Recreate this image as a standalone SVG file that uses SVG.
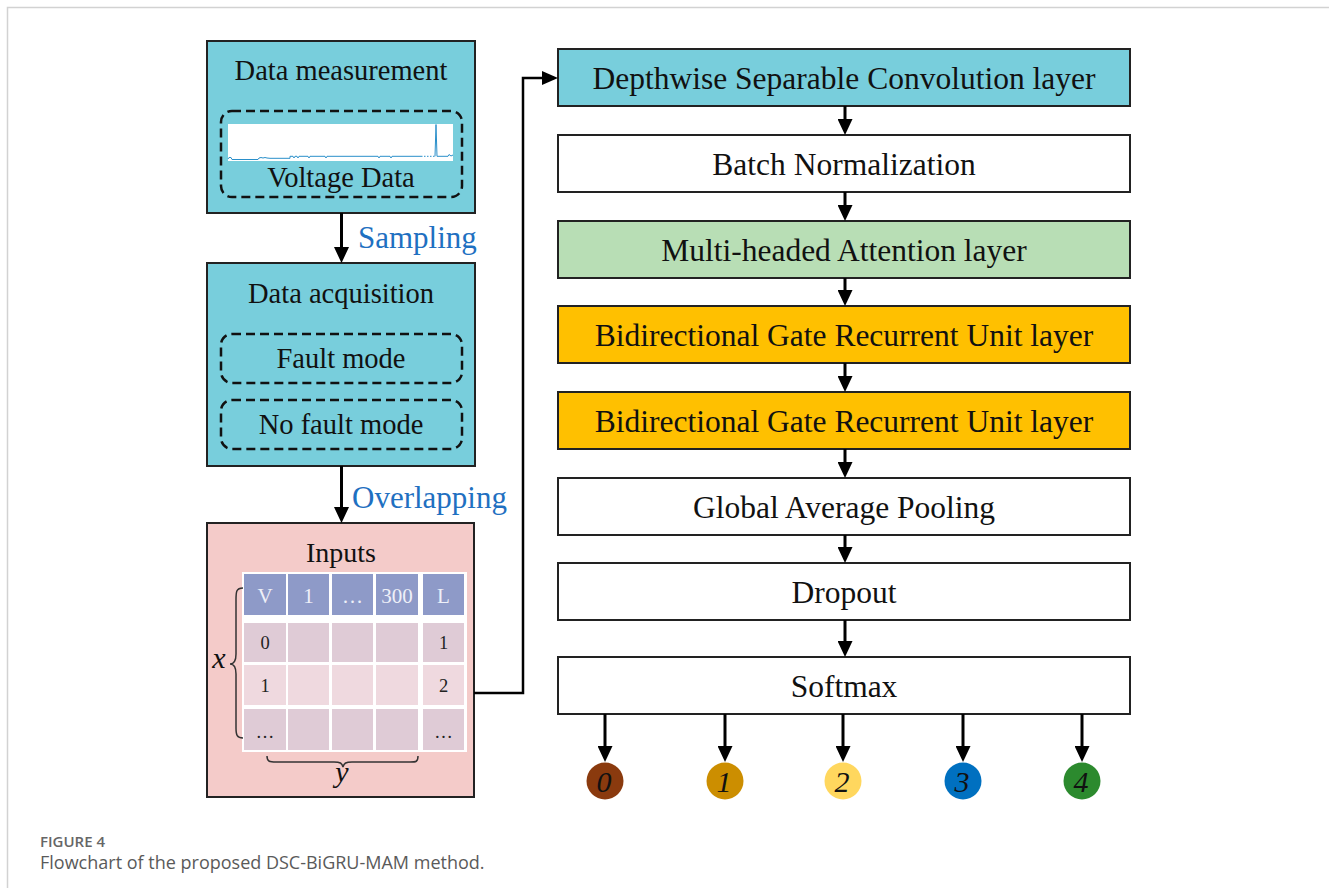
<svg xmlns="http://www.w3.org/2000/svg" width="1329" height="888" viewBox="0 0 1329 888">
  <style>
    .box { stroke: #222; stroke-width: 2; }
    .dash { fill: none; stroke: #111; stroke-width: 2.5; stroke-dasharray: 9 5; }
    .t-left { font-family: "Liberation Serif", "Times New Roman", serif; font-size: 28.5px; fill: #111; text-anchor: middle; }
    .t-right { font-family: "Liberation Serif", "Times New Roman", serif; font-size: 31.5px; fill: #111; text-anchor: middle; }
    .t-blue { font-family: "Liberation Serif", "Times New Roman", serif; font-size: 31px; fill: #1f70c1; }
    .t-head { font-family: "Liberation Serif", "Times New Roman", serif; font-size: 21px; fill: #eef0f8; text-anchor: middle; }
    .t-cell { font-family: "Liberation Serif", "Times New Roman", serif; font-size: 18.5px; fill: #222; text-anchor: middle; }
    .t-var { font-family: "Liberation Serif", "Times New Roman", serif; font-size: 30px; font-style: italic; fill: #111; text-anchor: middle; }
    .t-out { font-family: "Liberation Serif", "Times New Roman", serif; font-size: 30px; font-style: italic; fill: #111; text-anchor: middle; }
    .arrow { fill: none; stroke: #000; stroke-width: 3; marker-end: url(#head); }
    .route { fill: none; stroke: #000; stroke-width: 2.5; marker-end: url(#head-h); }
    .hd { fill: #8e9ac8; }
    .c-dark { fill: #dfcbd6; }
    .c-light { fill: #efd9df; }
    .brace { fill: none; stroke: #333; stroke-width: 1.5; }
    .cap1 { font-family: "Open Sans", "Liberation Sans", sans-serif; font-size: 15px; font-weight: 600; fill: #666; }
    .cap2 { font-family: "Open Sans", "Liberation Sans", sans-serif; font-size: 18px; fill: #5a5a5a; }
  </style>
  <defs>
    <marker id="head" markerUnits="userSpaceOnUse" markerWidth="16" markerHeight="15" refX="12" refY="7.5" orient="auto" viewBox="0 0 16 15">
      <path d="M0,0 L16,7.5 L0,15 Z" fill="#000"/>
    </marker>
    <marker id="head-h" markerUnits="userSpaceOnUse" markerWidth="16" markerHeight="14" refX="12" refY="7" orient="auto" viewBox="0 0 16 14">
      <path d="M0,0 L16,7 L0,14 Z" fill="#000"/>
    </marker>
  </defs>

  <rect width="1329" height="888" fill="#fff"/>
  <!-- page frame -->
  <path d="M7.5,888 V7.5 H1329" fill="none" stroke="#d2d2d2" stroke-width="1.5"/>

  <!-- ===== left column ===== -->
  <g id="data-measurement">
    <rect class="box" x="207" y="41" width="268" height="172" fill="#78cedc"/>
    <text class="t-left" x="341" y="80">Data measurement</text>
    <rect class="dash" x="221" y="111" width="241" height="86" rx="11"/>
    <rect x="228" y="124" width="225" height="37" fill="#fff"/>
    <!-- voltage trace -->
    <polyline fill="none" stroke="#2a8fca" stroke-width="1" points="228,159 229,157.5 231,157.5 232,159.5 258,159.5 259,158 261,157.5 263,158 265,157.5 267,158 270,158.3 290,158.3 290,156.3 293,156.3 294,158 295,156.3 297,156.3 298,158 299,156.3 308,156.3 309,158 310,156.3 325,156.3 326,158 327,156.3 378,156.3 379,158 380,156.3 390,156.3 391,158 392,156.3 421,156.3"/>
    <polyline fill="none" stroke="#2a8fca" stroke-width="1" stroke-dasharray="1.5 1.5" points="421,156.3 435,156.3"/>
    <polyline fill="none" stroke="#2a8fca" stroke-width="1" points="435,156.3 436,124.5 437,156.3 448,156.3 449,154.5 451,156 453,155"/>
    <text class="t-left" x="341" y="187">Voltage Data</text>
  </g>

  <g id="data-acquisition">
    <rect class="box" x="207" y="263" width="268" height="203" fill="#78cedc"/>
    <text class="t-left" x="341" y="303">Data acquisition</text>
    <rect class="dash" x="221" y="334" width="241" height="49" rx="11"/>
    <text class="t-left" x="341" y="368">Fault mode</text>
    <rect class="dash" x="221" y="400" width="241" height="49" rx="11"/>
    <text class="t-left" x="341" y="434">No fault mode</text>
  </g>

  <g id="inputs">
    <rect class="box" x="207" y="523" width="267" height="274" fill="#f4cbc9"/>
    <text class="t-left" x="341" y="562" style="font-size:28px">Inputs</text>
    <!-- table -->
    <rect x="242" y="572" width="225" height="180" fill="#fff"/>
    <rect class="hd" x="244" y="574" width="42" height="41"/>
    <rect class="hd" x="288" y="574" width="41" height="41"/>
    <rect class="hd" x="332" y="574" width="41" height="41"/>
    <rect class="hd" x="376" y="574" width="42" height="41"/>
    <rect class="hd" x="423" y="574" width="41" height="41"/>
    <text class="t-head" x="265" y="603">V</text>
    <text class="t-head" x="308.5" y="603">1</text>
    <text class="t-head" x="352.5" y="603">…</text>
    <text class="t-head" x="397" y="603">300</text>
    <text class="t-head" x="443.5" y="603">L</text>

    <rect class="c-dark" x="244" y="623" width="42" height="39"/>
    <rect class="c-dark" x="288" y="623" width="41" height="39"/>
    <rect class="c-dark" x="332" y="623" width="41" height="39"/>
    <rect class="c-dark" x="376" y="623" width="42" height="39"/>
    <rect class="c-dark" x="423" y="623" width="41" height="39"/>

    <rect class="c-light" x="244" y="665" width="42" height="40"/>
    <rect class="c-light" x="288" y="665" width="41" height="40"/>
    <rect class="c-light" x="332" y="665" width="41" height="40"/>
    <rect class="c-light" x="376" y="665" width="42" height="40"/>
    <rect class="c-light" x="423" y="665" width="41" height="40"/>

    <rect class="c-dark" x="244" y="709" width="42" height="41"/>
    <rect class="c-dark" x="288" y="709" width="41" height="41"/>
    <rect class="c-dark" x="332" y="709" width="41" height="41"/>
    <rect class="c-dark" x="376" y="709" width="42" height="41"/>
    <rect class="c-dark" x="423" y="709" width="41" height="41"/>

    <text class="t-cell" x="265" y="649">0</text>
    <text class="t-cell" x="443.5" y="649">1</text>
    <text class="t-cell" x="265" y="692">1</text>
    <text class="t-cell" x="443.5" y="692">2</text>
    <text class="t-cell" x="265" y="738">…</text>
    <text class="t-cell" x="443.5" y="738">…</text>

    <!-- braces -->
    <path class="brace" d="M243,588 C236,588 236,592 236,600 L236,654 C236,661 234,664 230,664 C234,664 236,667 236,674 L236,728 C236,735 237,738 243,738"/>
    <text class="t-var" x="219" y="668">x</text>
    <path class="brace" d="M267,756 C267,762 270,762 276,762 L334,762 C340,762 342,763 343,767 C344,763 346,762 352,762 L410,762 C416,762 418,762 418,756"/>
    <text class="t-var" x="342" y="782">y</text>
  </g>

  <text class="t-blue" x="358" y="248">Sampling</text>
  <text class="t-blue" x="352" y="508">Overlapping</text>

  <!-- ===== right column ===== -->
  <g id="dsc">
    <rect class="box" x="558" y="49" width="572" height="57" fill="#78cedc"/>
    <text class="t-right" x="844" y="89">Depthwise Separable Convolution layer</text>
  </g>
  <g id="batch-norm">
    <rect class="box" x="558" y="135" width="572" height="57" fill="#fff"/>
    <text class="t-right" x="844" y="175">Batch Normalization</text>
  </g>
  <g id="attention">
    <rect class="box" x="558" y="221" width="572" height="57" fill="#b8deb5"/>
    <text class="t-right" x="844" y="261">Multi-headed Attention layer</text>
  </g>
  <g id="bigru-1">
    <rect class="box" x="558" y="306" width="572" height="57" fill="#ffc000"/>
    <text class="t-right" x="844" y="346">Bidirectional Gate Recurrent Unit layer</text>
  </g>
  <g id="bigru-2">
    <rect class="box" x="558" y="392" width="572" height="57" fill="#ffc000"/>
    <text class="t-right" x="844" y="432">Bidirectional Gate Recurrent Unit layer</text>
  </g>
  <g id="gap">
    <rect class="box" x="558" y="478" width="572" height="57" fill="#fff"/>
    <text class="t-right" x="844" y="518">Global Average Pooling</text>
  </g>
  <g id="dropout">
    <rect class="box" x="558" y="563" width="572" height="57" fill="#fff"/>
    <text class="t-right" x="844" y="603">Dropout</text>
  </g>
  <g id="softmax">
    <rect class="box" x="558" y="657" width="572" height="57" fill="#fff"/>
    <text class="t-right" x="844" y="697">Softmax</text>
  </g>

  <!-- output classes -->
  <g id="class-0">
    <circle cx="605" cy="781" r="18.5" fill="#8a3a0e"/>
    <text class="t-out" x="604" y="792">0</text>
  </g>
  <g id="class-1">
    <circle cx="725" cy="781" r="18.5" fill="#cc8e00"/>
    <text class="t-out" x="724" y="792">1</text>
  </g>
  <g id="class-2">
    <circle cx="843" cy="781" r="18.5" fill="#ffd75e"/>
    <text class="t-out" x="842" y="792">2</text>
  </g>
  <g id="class-3">
    <circle cx="963" cy="781" r="18.5" fill="#0070c0"/>
    <text class="t-out" x="962" y="792">3</text>
  </g>
  <g id="class-4">
    <circle cx="1082" cy="781" r="18.5" fill="#2c8a2e"/>
    <text class="t-out" x="1081" y="792">4</text>
  </g>

  <!-- ===== connectors ===== -->
  <g id="connectors">
    <path class="arrow" d="M341.5,213 V259"/>
    <path class="arrow" d="M341.5,466 V519"/>
    <path class="route" d="M474,693 H523 V78 H554"/>
    <path class="arrow" d="M845,106 V131"/>
    <path class="arrow" d="M845,192 V217"/>
    <path class="arrow" d="M845,278 V302"/>
    <path class="arrow" d="M845,363 V388"/>
    <path class="arrow" d="M845,449 V474"/>
    <path class="arrow" d="M845,535 V559"/>
    <path class="arrow" d="M845,620 V653"/>
    <path class="arrow" d="M605,714 V758"/>
    <path class="arrow" d="M725,714 V758"/>
    <path class="arrow" d="M843,714 V758"/>
    <path class="arrow" d="M963,714 V758"/>
    <path class="arrow" d="M1082,714 V758"/>
  </g>

  <!-- caption -->
  <text class="cap1" x="40" y="847">FIGURE 4</text>
  <text class="cap2" x="40" y="869">Flowchart of the proposed DSC-BiGRU-MAM method.</text>
</svg>
